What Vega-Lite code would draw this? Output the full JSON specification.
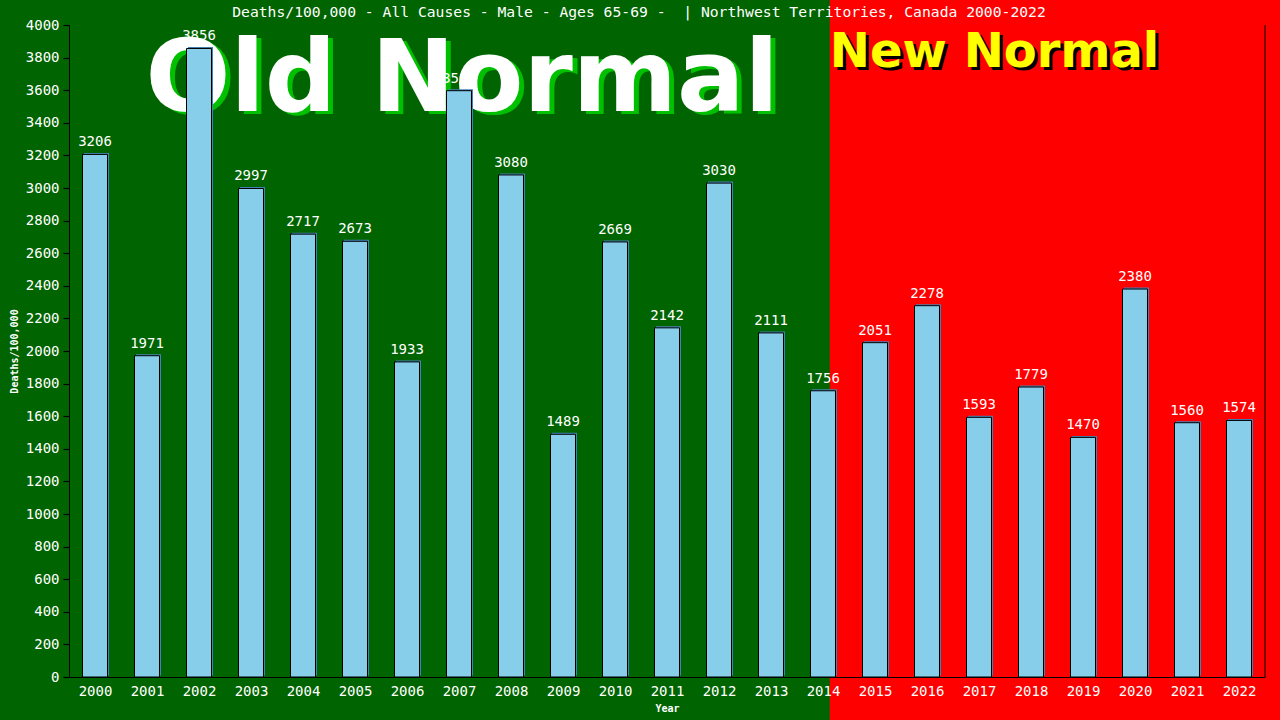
{
  "$schema": "https://vega.github.io/schema/vega-lite/v6.json",
  "width": 1196,
  "height": 652,
  "autosize": {"type": "none"},
  "padding": {"left": 69, "top": 25, "right": 15, "bottom": 43},
  "background": "#006400",
  "title": {
    "text": "Deaths/100,000 - All Causes - Male - Ages 65-69 - \u00a0| Northwest Territories, Canada 2000-2022",
    "font": "DejaVu Sans Mono",
    "fontSize": 14.7,
    "fontWeight": "normal",
    "color": "white",
    "anchor": "middle",
    "baseline": "alphabetic",
    "dx": -28,
    "offset": -32
  },
  "config": {
    "view": {"stroke": null},
    "axis": {
      "grid": false,
      "domainColor": "black",
      "domainWidth": 1,
      "tickColor": "black",
      "tickWidth": 1.2,
      "labelColor": "white",
      "labelFont": "DejaVu Sans Mono",
      "labelFontSize": 14,
      "titleColor": "white",
      "titleFont": "DejaVu Sans Mono",
      "titleFontSize": 10,
      "titleFontWeight": "bold"
    }
  },
  "datasets": {
    "deaths": [
      {"year": 2000, "value": 3206},
      {"year": 2001, "value": 1971},
      {"year": 2002, "value": 3856},
      {"year": 2003, "value": 2997},
      {"year": 2004, "value": 2717},
      {"year": 2005, "value": 2673},
      {"year": 2006, "value": 1933},
      {"year": 2007, "value": 3597},
      {"year": 2008, "value": 3080},
      {"year": 2009, "value": 1489},
      {"year": 2010, "value": 2669},
      {"year": 2011, "value": 2142},
      {"year": 2012, "value": 3030},
      {"year": 2013, "value": 2111},
      {"year": 2014, "value": 1756},
      {"year": 2015, "value": 2051},
      {"year": 2016, "value": 2278},
      {"year": 2017, "value": 1593},
      {"year": 2018, "value": 1779},
      {"year": 2019, "value": 1470},
      {"year": 2020, "value": 2380},
      {"year": 2021, "value": 1560},
      {"year": 2022, "value": 1574}
    ],
    "regime": [
      {"year": 2014.13, "end": 2022.8, "value": -265, "value2": 4153}
    ],
    "notes": [
      {"label": "Old Normal", "year": 2007.06, "value": 3470},
      {"label": "New Normal", "year": 2017.3, "value": 3742}
    ],
    "border": [
      {"year": 2022.5, "value": 0, "value2": 4000}
    ]
  },
  "encoding": {
    "x": {
      "field": "year", "type": "quantitative",
      "scale": {"domain": [1999.5, 2022.5], "nice": false, "zero": false, "padding": 0},
      "axis": {"title": "Year", "zindex": 2, "values": [2000,2001,2002,2003,2004,2005,2006,2007,2008,2009,2010,2011,2012,2013,2014,2015,2016,2017,2018,2019,2020,2021,2022], "format": "d", "ticks": false, "tickSize": 0, "labelPadding": 7, "titlePadding": 5, "labelFlush": false, "labelOverlap": false}
    },
    "y": {
      "field": "value", "type": "quantitative",
      "scale": {"domain": [0, 4000], "nice": false, "zero": false, "padding": 0},
      "axis": {"title": "Deaths/100,000", "zindex": 2, "values": [0,200,400,600,800,1000,1200,1400,1600,1800,2000,2200,2400,2600,2800,3000,3200,3400,3600,3800,4000], "format": "d", "ticks": true, "tickSize": 6, "labelPadding": 4, "titlePadding": 6, "labelOverlap": false, "labelFlush": false}
    }
  },
  "layer": [
    {
      "data": {"name": "regime"},
      "mark": {"type": "rect", "color": "#FF0000"},
      "encoding": {
        "x2": {"field": "end"},
        "y2": {"field": "value2"}
      }
    },
    {
      "data": {"name": "notes"},
      "transform": [{"filter": "datum.label == 'Old Normal'"}],
      "mark": {"type": "text", "font": "DejaVu Sans", "fontWeight": "bold", "fontSize": 100, "align": "center", "baseline": "alphabetic", "color": "#00C000", "dx": 5, "dy": 3},
      "encoding": {"text": {"field": "label"}}
    },
    {
      "data": {"name": "notes"},
      "transform": [{"filter": "datum.label == 'Old Normal'"}],
      "mark": {"type": "text", "font": "DejaVu Sans", "fontWeight": "bold", "fontSize": 100, "align": "center", "baseline": "alphabetic", "color": "white"},
      "encoding": {"text": {"field": "label"}}
    },
    {
      "data": {"name": "notes"},
      "transform": [{"filter": "datum.label == 'New Normal'"}],
      "mark": {"type": "text", "font": "DejaVu Sans", "fontWeight": "bold", "fontSize": 48, "align": "center", "baseline": "alphabetic", "color": "black", "dx": 3, "dy": 3},
      "encoding": {"text": {"field": "label"}}
    },
    {
      "data": {"name": "notes"},
      "transform": [{"filter": "datum.label == 'New Normal'"}],
      "mark": {"type": "text", "font": "DejaVu Sans", "fontWeight": "bold", "fontSize": 48, "align": "center", "baseline": "alphabetic", "color": "#FFFF00"},
      "encoding": {"text": {"field": "label"}}
    },
    {
      "data": {"name": "deaths"},
      "mark": {"type": "bar", "color": "#4682B4", "size": 25, "xOffset": 1.5, "yOffset": -1.5}
    },
    {
      "data": {"name": "deaths"},
      "mark": {"type": "bar", "color": "#87CEEB", "size": 25, "stroke": "black", "strokeWidth": 1}
    },
    {
      "data": {"name": "deaths"},
      "mark": {"type": "text", "font": "DejaVu Sans Mono", "fontSize": 14, "color": "white", "align": "center", "baseline": "alphabetic", "dy": -8},
      "encoding": {"text": {"field": "value", "type": "quantitative", "format": "d"}}
    },
    {
      "data": {"name": "border"},
      "mark": {"type": "rule", "color": "black", "strokeWidth": 1},
      "encoding": {"y2": {"field": "value2"}}
    }
  ]
}
